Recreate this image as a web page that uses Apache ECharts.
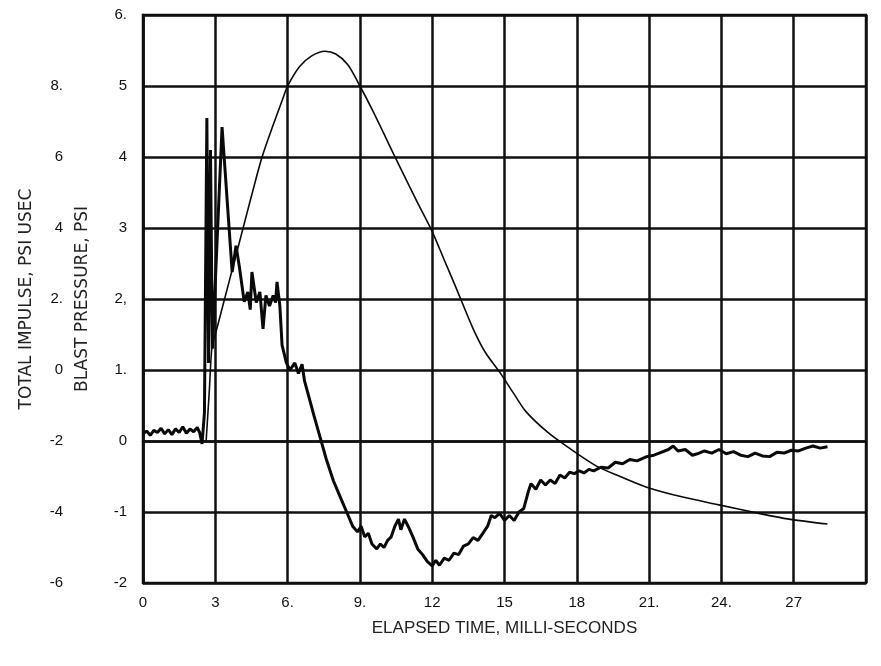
<!DOCTYPE html>
<html>
<head>
<meta charset="utf-8">
<script src="https://cdn.jsdelivr.net/npm/echarts@6/dist/echarts.min.js"></script>
<style>
html,body{margin:0;padding:0;background:#fff;}
#chart{width:881px;height:666px;}
</style>
</head>
<body>
<div id="chart"></div>
<script>
// ---- data ----
const xTickLabels = ['0','3','6.','9.','12','15','18','21.','24.','27',''];
const pressureTickLabels = ['-2','-1','0','1.','2,','3','4','5','6.'];
const impulseTickLabels = ['-6','-4','-2','0','2.','4','6','8.',''];

// Blast pressure trace (time ms, psi)
const pressureTime = [0,0.15,0.3,0.45,0.6,0.75,0.9,1.05,1.2,1.35,1.5,1.65,1.8,1.95,2.1,2.25,2.35,2.45,
 2.55,2.65,2.72,2.8,2.88,3.28,3.7,3.86,4.0,4.2,4.35,4.45,4.52,4.7,4.85,4.98,5.1,5.25,5.4,5.5,5.56,5.68,5.77,
 5.95,6.1,6.3,6.45,6.6,6.7,6.9,7.1,7.35,7.6,7.9,8.2,8.45,8.7,8.9,9.05,9.2,9.35,9.5,9.7,9.85,10.0,10.15,10.3,
 10.45,10.6,10.7,10.85,11.0,11.2,11.4,11.6,11.8,12.0,12.15,12.3,12.5,12.7,12.9,13.1,13.3,13.5,13.7,13.9,14.1,
 14.3,14.45,14.6,14.8,15.0,15.2,15.4,15.6,15.8,16.0,16.1,16.3,16.5,16.7,16.9,17.1,17.3,17.5,17.7,17.9,18.1,
 18.3,18.5,18.7,19.0,19.3,19.6,19.9,20.2,20.5,20.9,21.2,21.5,21.8,22.0,22.2,22.5,22.8,23.0,23.3,23.6,23.9,
 24.2,24.5,24.8,25.1,25.4,25.7,26.0,26.3,26.6,26.9,27.2,27.5,27.8,28.1,28.4];
const pressureValue = [0.10,0.14,0.08,0.15,0.12,0.18,0.10,0.16,0.09,0.17,0.12,0.20,0.11,0.17,0.13,0.19,0.12,-0.04,
 0.40,4.55,1.10,4.10,1.30,4.42,2.38,2.75,2.45,1.96,2.10,1.85,2.38,1.95,2.10,1.58,2.05,1.90,2.05,1.95,2.24,1.90,1.35,
 1.10,1.00,1.10,0.95,1.08,0.85,0.60,0.35,0.05,-0.25,-0.56,-0.80,-1.00,-1.20,-1.28,-1.20,-1.35,-1.30,-1.45,-1.52,-1.45,-1.50,-1.40,-1.35,
 -1.20,-1.10,-1.25,-1.10,-1.20,-1.35,-1.52,-1.60,-1.70,-1.76,-1.68,-1.75,-1.65,-1.68,-1.58,-1.60,-1.48,-1.45,-1.36,-1.40,-1.30,
 -1.20,-1.05,-1.08,-1.02,-1.12,-1.05,-1.12,-1.00,-0.95,-0.70,-0.60,-0.68,-0.55,-0.62,-0.55,-0.60,-0.48,-0.52,-0.44,-0.46,-0.42,
 -0.45,-0.40,-0.42,-0.37,-0.38,-0.30,-0.32,-0.26,-0.28,-0.22,-0.20,-0.16,-0.12,-0.07,-0.14,-0.12,-0.20,-0.18,-0.14,-0.17,-0.12,
 -0.18,-0.15,-0.20,-0.22,-0.17,-0.21,-0.22,-0.16,-0.17,-0.13,-0.14,-0.10,-0.07,-0.10,-0.08];

// Total impulse curve (time ms, impulse)
const impulseTime = [2.62,2.75,2.86,3.0,3.5,4.0,4.5,4.94,5.4,5.8,6.0,6.5,7.0,7.55,8.0,8.5,9.0,9.5,10.0,10.4,11.0,11.4,
 12.0,12.5,13.0,13.7,14.2,14.8,15.4,15.9,16.8,17.6,18.8,19.8,20.9,22.4,23.9,25.7,26.8,28.4];
const impulseValue = [-2.0,-0.6,0.64,1.0,2.3,3.6,4.9,6.0,6.9,7.64,8.0,8.55,8.85,8.98,8.9,8.6,8.0,7.35,6.65,6.08,5.25,4.7,
 3.9,3.1,2.3,1.16,0.5,-0.06,-0.68,-1.18,-1.76,-2.16,-2.7,-3.0,-3.3,-3.58,-3.8,-4.06,-4.2,-4.34];

const pressureSeries = pressureTime.map((t, i) => [t, pressureValue[i]]);
const impulseSeries = impulseTime.map((t, i) => [t, impulseValue[i]]);

const FONT = 'Liberation Sans';
const NAMEFONT = 'DejaVu Sans';
const INK = '#111';

const chart = echarts.init(document.getElementById('chart'), null, {renderer: 'canvas'});
chart.setOption({
  backgroundColor: '#ffffff',
  animation: false,
  grid: {left: 143, right: 15, top: 15, bottom: 83, show: true, borderColor: INK, borderWidth: 2.5, containLabel: false},
  xAxis: {
    type: 'value', min: 0, max: 30, interval: 3,
    name: 'ELAPSED TIME, MILLI-SECONDS', nameLocation: 'middle', nameGap: 37,
    nameTextStyle: {fontFamily: FONT, fontSize: 17, color: '#222'},
    axisLine: {show: true, lineStyle: {color: INK, width: 2.5}},
    axisTick: {show: false},
    axisLabel: {fontFamily: FONT, fontSize: 15, color: INK, margin: 12,
      formatter: v => xTickLabels[Math.round(v / 3)] ?? ''},
    splitLine: {show: true, lineStyle: {color: INK, width: 2.5}}
  },
  yAxis: [
    {
      type: 'value', position: 'left', offset: 0, min: -2, max: 6, interval: 1,
      name: 'BLAST PRESSURE, PSI', nameLocation: 'middle', nameGap: 52, nameRotate: 90,
      nameTextStyle: {fontFamily: NAMEFONT, fontSize: 17, color: '#222'},
      axisLine: {show: true, lineStyle: {color: INK, width: 2.5}},
      axisTick: {show: false},
      axisLabel: {fontFamily: FONT, fontSize: 15, color: INK, margin: 16,
        formatter: v => pressureTickLabels[Math.round(v + 2)] ?? ''},
      splitLine: {show: true, lineStyle: {color: INK, width: 2.5}}
    },
    {
      type: 'value', position: 'left', offset: 64, min: -6, max: 10, interval: 2,
      name: 'TOTAL IMPULSE, PSI USEC', nameLocation: 'middle', nameGap: 44, nameRotate: 90,
      nameTextStyle: {fontFamily: NAMEFONT, fontSize: 17, color: '#222'},
      axisLine: {show: false},
      axisTick: {show: false},
      axisLabel: {fontFamily: FONT, fontSize: 15, color: INK, margin: 16,
        formatter: v => impulseTickLabels[Math.round((v + 6) / 2)] ?? ''},
      splitLine: {show: false}
    }
  ],
  series: [
    {
      name: 'Blast pressure', type: 'line', yAxisIndex: 0, data: pressureSeries,
      showSymbol: false, symbol: 'none', smooth: false,
      lineStyle: {color: '#0a0a0a', width: 3}
    },
    {
      name: 'Total impulse', type: 'line', yAxisIndex: 1, data: impulseSeries,
      showSymbol: false, symbol: 'none', smooth: 0.3,
      lineStyle: {color: '#0a0a0a', width: 1.6}
    }
  ]
});
</script>
</body>
</html>
